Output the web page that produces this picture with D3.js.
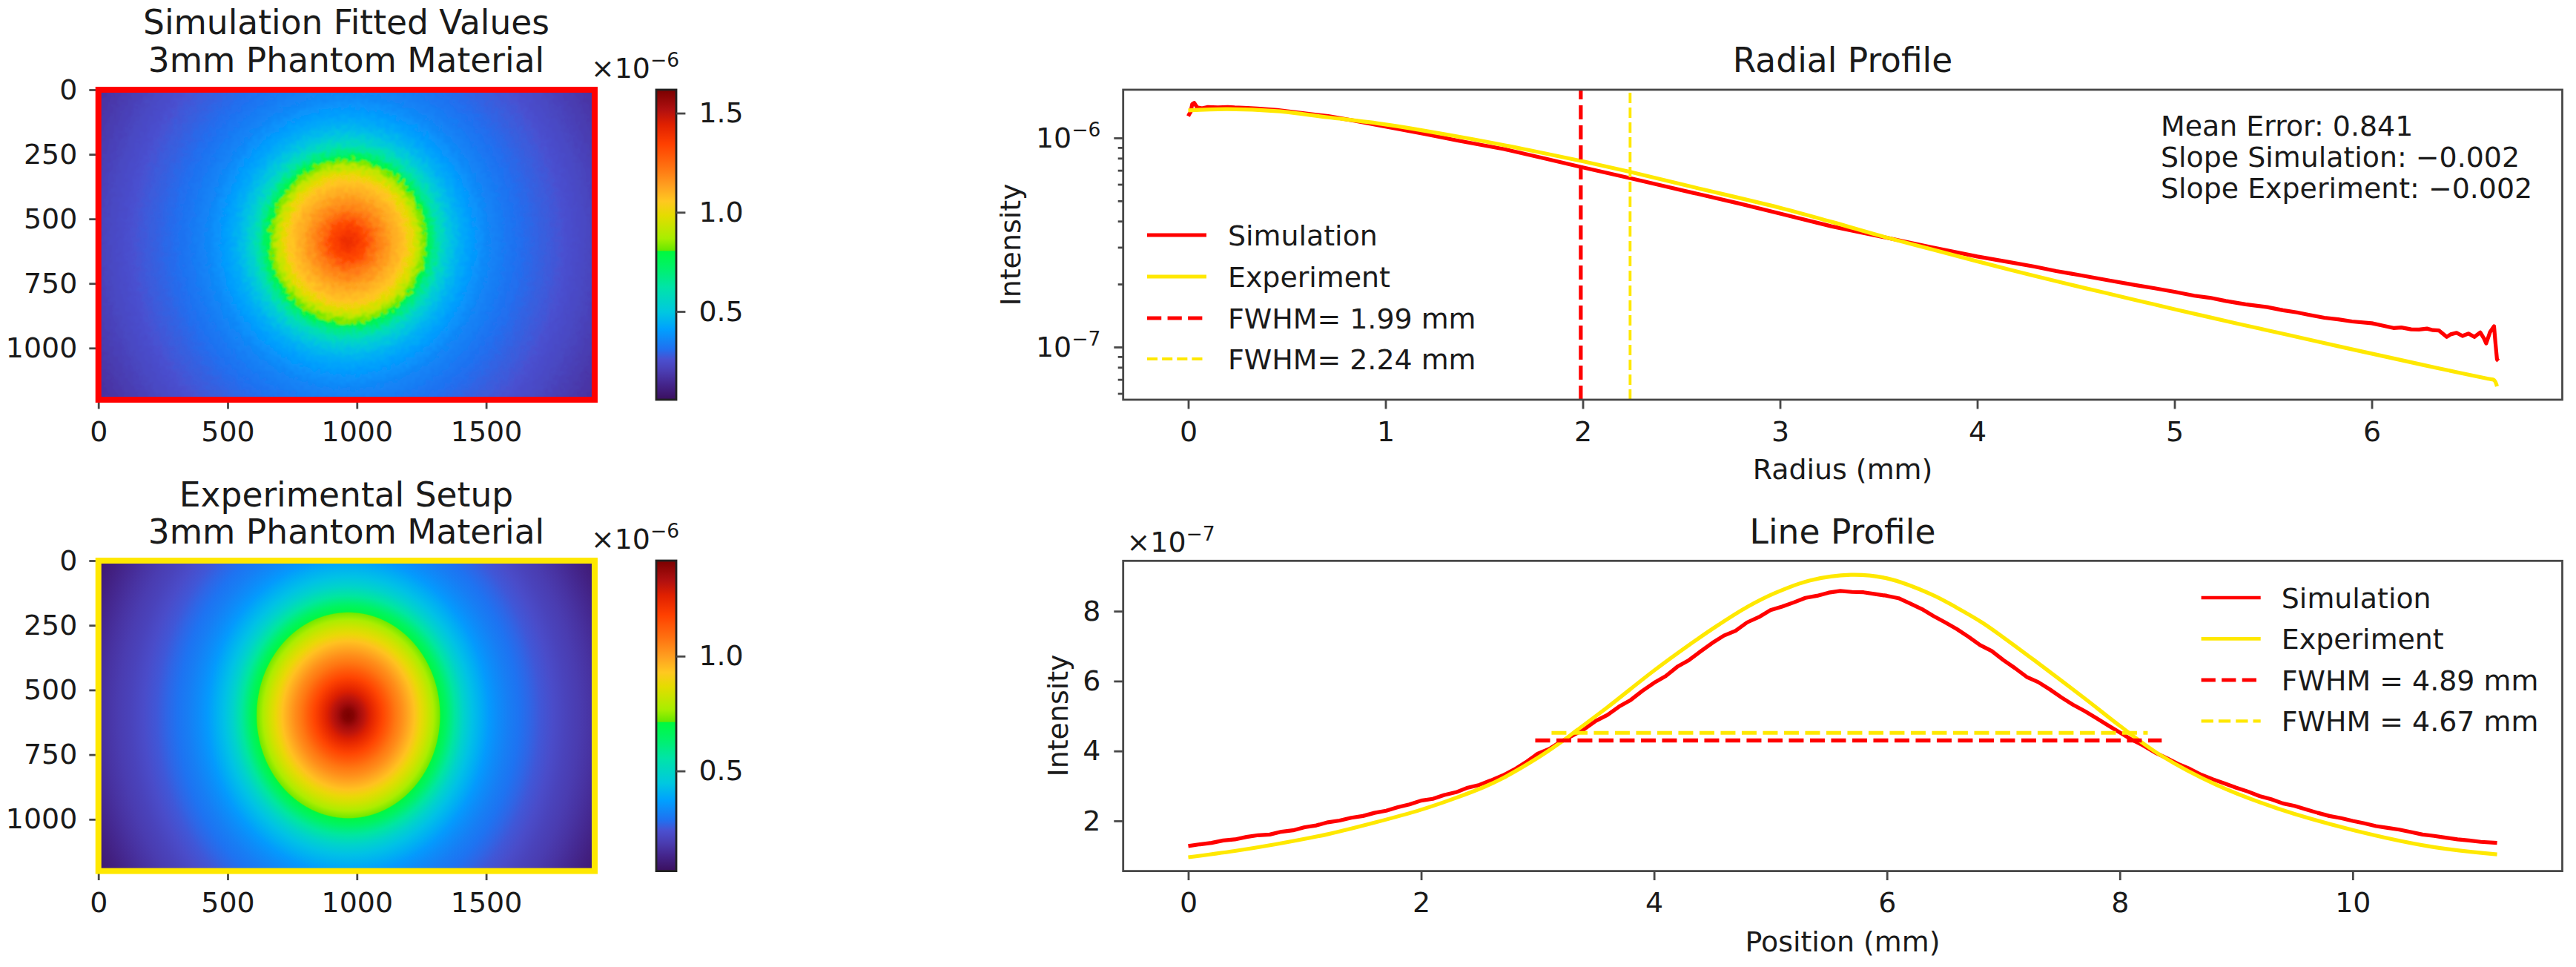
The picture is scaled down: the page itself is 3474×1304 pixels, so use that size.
<!DOCTYPE html>
<html>
<head>
<meta charset="utf-8">
<script src="https://cdn.jsdelivr.net/npm/d3@7"></script>
<style>
	html, body { margin: 0; background: #fff; }
	text { font-family: "DejaVu Sans", sans-serif; fill: #1a1a1a; }
</style>
</head>
<body>
<script>
// colormap, has a jump at the green / yellow-green edge
var cmapT = [0, 0.05, 0.09, 0.13, 0.163, 0.227, 0.283, 0.363, 0.418, 0.466, 0.479, 0.481, 0.52, 0.594, 0.64, 0.69, 0.753, 0.825, 0.888, 0.936, 1];
var cmapColors = ["#3a0f5e", "#44258c", "#4a3cb0", "#4a50d0", "#2070f0", "#00a0ff", "#00c8e0", "#00e4a8", "#00f070", "#00f848", "#00f840", "#66e800", "#a8ee00", "#e4dc00", "#ffc820", "#ffa020", "#ff7010", "#ff4000", "#e02000", "#b01010", "#7a0000"];

// image panels: value (x1e-6) against radius (mm)
var simRingR = [0, 0.12, 0.25, 0.4, 0.55, 0.7, 0.85, 1, 1.15, 1.3, 1.45, 1.6, 1.75, 1.78, 1.9, 2.05, 2.2, 2.35, 2.5, 2.65, 2.8, 2.95, 3.1, 3.25, 3.4, 3.55, 3.7, 3.85, 4, 4.2, 4.4, 4.6, 4.8, 5, 5.3, 5.6, 5.9, 6.2, 6.5, 6.8];
var simRingV = [1.41, 1.39, 1.36, 1.32, 1.25, 1.2, 1.16, 1.12, 1.09, 1.06, 0.99, 0.91, 0.815, 0.8, 0.69, 0.6, 0.53, 0.48, 0.445, 0.42, 0.4, 0.38, 0.362, 0.35, 0.338, 0.327, 0.317, 0.308, 0.3, 0.29, 0.28, 0.272, 0.262, 0.25, 0.235, 0.215, 0.195, 0.178, 0.165, 0.15];
var expRingR = [0, 0.12, 0.25, 0.38, 0.5, 0.65, 0.8, 0.95, 1.1, 1.25, 1.4, 1.55, 1.7, 1.85, 2, 2.14, 2.16, 2.3, 2.5, 2.7, 2.9, 3.1, 3.3, 3.5, 3.75, 4, 4.25, 4.5, 4.8, 5.1, 5.4, 5.7, 6, 6.3, 6.6, 6.9];
var expRingV = [1.415, 1.4, 1.35, 1.31, 1.27, 1.22, 1.17, 1.12, 1.07, 1.03, 0.985, 0.94, 0.88, 0.83, 0.773, 0.725, 0.705, 0.65, 0.565, 0.49, 0.435, 0.4, 0.36, 0.335, 0.31, 0.29, 0.27, 0.25, 0.228, 0.205, 0.185, 0.165, 0.14, 0.115, 0.095, 0.075];

// radial profile (x1e-6)
var radialSimX = [0, 0.005, 0.012, 0.02, 0.03, 0.045, 0.07, 0.1, 0.15, 0.2, 0.235, 0.3, 0.35, 0.45, 0.55, 0.62, 0.71, 0.85, 1, 1.2, 1.37, 1.6, 1.8, 2, 2.24, 2.56, 2.8, 3, 3.26, 3.51, 3.77, 4, 4.15, 4.29, 4.4, 4.54, 4.67, 4.8, 4.9, 5, 5.1, 5.18, 5.26, 5.36, 5.47, 5.55, 5.62, 5.68, 5.76, 5.83, 5.9, 6, 6.05, 6.11, 6.15, 6.2, 6.24, 6.28, 6.31, 6.34, 6.38, 6.4, 6.43, 6.46, 6.49, 6.52, 6.55, 6.57, 6.58, 6.6, 6.62, 6.627, 6.635, 6.642];
var radialSimV = [1.27, 1.3, 1.33, 1.45, 1.47, 1.4, 1.385, 1.405, 1.4, 1.405, 1.398, 1.39, 1.382, 1.36, 1.325, 1.3, 1.271, 1.205, 1.133, 1.045, 0.97, 0.885, 0.8, 0.723, 0.642, 0.546, 0.484, 0.435, 0.378, 0.338, 0.3, 0.271, 0.256, 0.2425, 0.231, 0.219, 0.208, 0.198, 0.191, 0.1837, 0.176, 0.172, 0.166, 0.16, 0.1552, 0.15, 0.1465, 0.1426, 0.138, 0.1356, 0.1325, 0.13, 0.127, 0.1233, 0.124, 0.1215, 0.1213, 0.1225, 0.1205, 0.1201, 0.1118, 0.115, 0.117, 0.113, 0.116, 0.1118, 0.1175, 0.1095, 0.1041, 0.118, 0.1258, 0.105, 0.0873, 0.0859];
var radialExpX = [0, 0.2, 0.45, 0.71, 1, 1.37, 1.7, 2, 2.24, 2.56, 3, 3.26, 3.51, 3.77, 4, 4.29, 4.54, 4.8, 5, 5.32, 5.57, 5.83, 6.09, 6.34, 6.59, 6.62, 6.635];
var radialExpV = [1.355, 1.374, 1.342, 1.254, 1.16, 1.014, 0.885, 0.773, 0.688, 0.582, 0.463, 0.397, 0.34, 0.293, 0.257, 0.2188, 0.192, 0.168, 0.1517, 0.1294, 0.1146, 0.1009, 0.0891, 0.0791, 0.0705, 0.0695, 0.0649];

// line profile (x1e-7)
var lineSimX = [0, 0.1, 0.2, 0.3, 0.4, 0.5, 0.6, 0.7, 0.8, 0.9, 1, 1.1, 1.2, 1.3, 1.4, 1.5, 1.6, 1.7, 1.8, 1.9, 2, 2.1, 2.2, 2.3, 2.4, 2.5, 2.6, 2.7, 2.8, 2.9, 3, 3.1, 3.2, 3.3, 3.4, 3.5, 3.6, 3.7, 3.8, 3.9, 4, 4.1, 4.2, 4.3, 4.4, 4.5, 4.6, 4.7, 4.8, 4.9, 5, 5.1, 5.2, 5.3, 5.4, 5.5, 5.6, 5.7, 5.8, 5.9, 6, 6.1, 6.2, 6.3, 6.4, 6.5, 6.6, 6.7, 6.8, 6.9, 7, 7.1, 7.2, 7.3, 7.4, 7.5, 7.6, 7.7, 7.8, 7.9, 8, 8.1, 8.2, 8.3, 8.4, 8.5, 8.6, 8.7, 8.8, 8.9, 9, 9.1, 9.2, 9.3, 9.4, 9.5, 9.6, 9.7, 9.8, 9.9, 10, 10.1, 10.2, 10.3, 10.4, 10.5, 10.6, 10.7, 10.8, 10.9, 11, 11.1, 11.24];
var lineSimV = [1.28, 1.33, 1.37, 1.44, 1.47, 1.54, 1.59, 1.61, 1.69, 1.73, 1.82, 1.87, 1.96, 2.01, 2.09, 2.14, 2.23, 2.29, 2.39, 2.47, 2.58, 2.63, 2.74, 2.82, 2.95, 3.03, 3.16, 3.3, 3.47, 3.68, 3.92, 4.06, 4.27, 4.44, 4.62, 4.86, 5.03, 5.27, 5.46, 5.72, 5.95, 6.14, 6.41, 6.6, 6.85, 7.09, 7.3, 7.44, 7.68, 7.83, 8.03, 8.13, 8.25, 8.38, 8.44, 8.53, 8.58, 8.55, 8.54, 8.49, 8.44, 8.37, 8.22, 8.06, 7.86, 7.68, 7.49, 7.27, 7.03, 6.86, 6.6, 6.37, 6.12, 5.97, 5.76, 5.53, 5.32, 5.14, 4.94, 4.73, 4.53, 4.33, 4.16, 3.96, 3.8, 3.63, 3.49, 3.32, 3.19, 3.07, 2.95, 2.84, 2.71, 2.62, 2.5, 2.43, 2.33, 2.23, 2.14, 2.08, 2, 1.93, 1.85, 1.8, 1.75, 1.68, 1.61, 1.57, 1.52, 1.47, 1.44, 1.4, 1.37];
var lineExpX = [0, 0.4, 0.75, 1.2, 1.6, 2, 2.3, 2.54, 2.7, 2.99, 3.2, 3.34, 3.6, 4, 4.3, 4.55, 4.8, 5.04, 5.34, 5.69, 6, 6.39, 6.6, 6.82, 7, 7.26, 7.7, 8, 8.35, 8.83, 9.35, 10, 10.66, 11.24];
var lineExpV = [0.96, 1.14, 1.33, 1.62, 1.95, 2.32, 2.66, 2.97, 3.22, 3.78, 4.25, 4.6, 5.25, 6.3, 7.03, 7.6, 8.12, 8.52, 8.88, 9.04, 8.94, 8.47, 8.1, 7.67, 7.25, 6.61, 5.5, 4.72, 3.88, 3.03, 2.36, 1.74, 1.27, 1.04];

var fwhmRadial = [1.99, 2.24];
var fwhmLineX = [[2.98, 8.36], [3.12, 8.24]];
var fwhmLineY = [4.30, 4.52];

var imgXTicks = [0, 500, 1000, 1500];
var imgYTicks = [0, 250, 500, 750, 1000];
var simBarTicks = [0.5, 1.0, 1.5];
var expBarTicks = [0.5, 1.0];
var radialXTicks = [0, 1, 2, 3, 4, 5, 6];
var lineXTicks = [0, 2, 4, 6, 8, 10];
var lineYTicks = [2, 4, 6, 8];
var logMajor = [1e-6, 1e-7];
var logMinor = [9e-7, 8e-7, 7e-7, 6e-7, 5e-7, 4e-7, 3e-7, 2e-7, 9e-8, 8e-8, 7e-8, 6e-8];

var radialLegend = ["Simulation", "Experiment", "FWHM= 1.99 mm", "FWHM= 2.24 mm"];
var lineLegend = ["Simulation", "Experiment", "FWHM = 4.89 mm", "FWHM = 4.67 mm"];
var statsText = ["Mean Error: 0.841", "Slope Simulation: \u22120.002", "Slope Experiment: \u22120.002"];

var RED = "#ff0000", YELLOW = "#ffe800", SPINE = "#484848";
var FS_TICK = 37.9, FS_TITLE = 45.5, FS_LEG = 37.9;

var svg = d3.select("body")
	.append("svg")
	.attr("width", 3474)
	.attr("height", 1304);

var defs = svg.append("defs");

function styleAxis(g) {
	g.select(".domain").remove();
	g.selectAll(".tick line").attr("stroke", SPINE).attr("stroke-width", 2.8);
	g.selectAll(".tick text").attr("font-size", FS_TICK).attr("fill", "#1a1a1a");
	return g;
}

function addText(str, x, y, size, anchor) {
	return svg.append("text")
		.attr("x", x)
		.attr("y", y)
		.attr("font-size", size)
		.attr("text-anchor", anchor || "start")
		.text(str);
}

function addOffset(exp, x, y) {
	var t = addText("\u00d710", x, y, FS_TICK);
	t.append("tspan")
		.attr("dy", -15)
		.attr("font-size", 26.5)
		.text("\u2212" + exp);
}

function imagePanel(id, top, bottom, ringR, ringV, vMin, vMax, barTicks, edge, cx, cy, mmX, mmY, noisy) {
	var x = d3.scaleLinear().domain([0, 1920]).range([132.7, 802]);
	var y = d3.scaleLinear().domain([0, 1200]).range([top, bottom]);
	var v = d3.scaleLinear().domain([vMin, vMax]).range([0, 1]);
	var cmap = d3.scaleLinear().domain(cmapT).range(cmapColors);
	var rMax = d3.max(ringR);

	// radial gradient built from the value rings
	var grad = defs.append("radialGradient")
		.attr("id", id + "Field")
		.attr("gradientUnits", "userSpaceOnUse")
		.attr("cx", 0).attr("cy", 0).attr("r", 1)
		.attr("gradientTransform", "translate(" + x(cx) + "," + y(cy) + ") scale(" + (x(rMax * mmX) - x(0)) + "," + (y(rMax * mmY) - y(0)) + ")");
	grad.selectAll("stop")
		.data(ringR)
		.enter()
		.append("stop")
		.attr("offset", function(d){ return d / rMax; })
		.attr("stop-color", function(d, i){ return cmap(v(ringV[i])); });

	defs.append("clipPath")
		.attr("id", id + "Clip")
		.append("rect")
		.attr("x", x(0)).attr("y", y(0))
		.attr("width", x(1920) - x(0)).attr("height", y(1200) - y(0));

	if (noisy) {
		// grainy edge of the simulated image
		var f = defs.append("filter")
			.attr("id", id + "Grain")
			.attr("filterUnits", "userSpaceOnUse")
			.attr("x", x(0) - 40).attr("y", y(0) - 40)
			.attr("width", x(1920) - x(0) + 80).attr("height", y(1200) - y(0) + 80);
		f.append("feTurbulence")
			.attr("type", "fractalNoise")
			.attr("baseFrequency", 0.15)
			.attr("numOctaves", 2)
			.attr("seed", 4)
			.attr("result", "n");
		f.append("feDisplacementMap")
			.attr("in", "SourceGraphic")
			.attr("in2", "n")
			.attr("scale", 16)
			.attr("xChannelSelector", "R")
			.attr("yChannelSelector", "G");
		f.append("feGaussianBlur").attr("stdDeviation", 1);
	}

	var field = svg.append("g").attr("clip-path", "url(#" + id + "Clip)")
		.append("rect")
		.attr("x", x(0) - 30).attr("y", y(0) - 30)
		.attr("width", x(1920) - x(0) + 60).attr("height", y(1200) - y(0) + 60)
		.attr("fill", "url(#" + id + "Field)");
	if (noisy) field.attr("filter", "url(#" + id + "Grain)");

	svg.append("g")
		.attr("transform", "translate(0," + bottom + ")")
		.call(d3.axisBottom(x).tickValues(imgXTicks).tickSize(12.4).tickPadding(16.5).tickFormat(d3.format("d")))
		.call(styleAxis);
	svg.append("g")
		.attr("transform", "translate(132.7,0)")
		.call(d3.axisLeft(y).tickValues(imgYTicks).tickSize(12.4).tickPadding(16).tickFormat(d3.format("d")))
		.call(styleAxis);

	svg.append("rect")
		.attr("x", x(0)).attr("y", y(0))
		.attr("width", x(1920) - x(0)).attr("height", y(1200) - y(0))
		.attr("fill", "none")
		.attr("stroke", edge)
		.attr("stroke-width", 8);

	// colorbar
	var barGrad = defs.append("linearGradient")
		.attr("id", id + "Bar")
		.attr("x1", 0).attr("y1", 1).attr("x2", 0).attr("y2", 0);
	barGrad.selectAll("stop")
		.data(cmapT)
		.enter()
		.append("stop")
		.attr("offset", function(d){ return d; })
		.attr("stop-color", function(d, i){ return cmapColors[i]; });

	var barY = d3.scaleLinear().domain([vMin, vMax]).range([bottom, top]);
	svg.append("rect")
		.attr("x", 885).attr("y", top)
		.attr("width", 27).attr("height", bottom - top)
		.attr("fill", "url(#" + id + "Bar)")
		.attr("stroke", "#222")
		.attr("stroke-width", 2.8);
	svg.append("g")
		.attr("transform", "translate(912,0)")
		.call(d3.axisRight(barY).tickValues(barTicks).tickSize(12.4).tickPadding(18).tickFormat(d3.format(".1f")))
		.call(styleAxis);
}

function drawLines(g, x, y, series) {
	series.forEach(function(s){
		var line = d3.line()
			.x(function(d){ return x(d[0]); })
			.y(function(d){ return y(d[1]); });
		if (s.smooth) line.curve(d3.curveCatmullRom.alpha(0.5));
		g.append("path")
			.datum(d3.zip(s.x, s.v))
			.attr("d", line)
			.attr("fill", "none")
			.attr("stroke", s.color)
			.attr("stroke-width", s.w)
			.attr("stroke-linejoin", "round");
	});
}

function legend(x0, x1, textX, rows, labels, widths) {
	labels.forEach(function(lab, i){
		svg.append("line")
			.attr("x1", x0).attr("x2", x1)
			.attr("y1", rows[i]).attr("y2", rows[i])
			.attr("stroke", i % 2 === 0 ? RED : YELLOW)
			.attr("stroke-width", widths[i])
			.attr("stroke-dasharray", i > 1 ? (widths[i] * 3.7) + " " + (widths[i] * 1.6) : null);
		addText(lab, textX, rows[i] + 13.5, FS_LEG);
	});
}

function spines(x0, y0, x1, y1) {
	svg.append("rect")
		.attr("x", x0).attr("y", y0)
		.attr("width", x1 - x0).attr("height", y1 - y0)
		.attr("fill", "none")
		.attr("stroke", SPINE)
		.attr("stroke-width", 2.8);
}

/* ---- left images ---- */
imagePanel("sim", 121, 539, simRingR, simRingV, 0.055, 1.618, simBarTicks, RED, 965, 587, 172, 180, true);
imagePanel("exp", 756, 1174.6, expRingR, expRingV, 0.064, 1.416, expBarTicks, YELLOW, 967, 598, 165, 185, false);

addText("Simulation Fitted Values", 467, 46.4, FS_TITLE, "middle");
addText("3mm Phantom Material", 467, 97.4, FS_TITLE, "middle");
addText("Experimental Setup", 467, 682.5, FS_TITLE, "middle");
addText("3mm Phantom Material", 467, 733.4, FS_TITLE, "middle");
addOffset(6, 797, 104.5);
addOffset(6, 797, 739.6);

/* ---- radial profile ---- */
var rx = d3.scaleLinear().domain([-0.33, 6.966]).range([1514.7, 3455.5]);
var ry = d3.scaleLog().domain([5.6e-8, 1.7e-6]).range([539, 121]);
var rScale = function(d){ return ry(d * 1e-6); };

svg.append("g")
	.attr("transform", "translate(0,539)")
	.call(d3.axisBottom(rx).tickValues(radialXTicks).tickSize(12.4).tickPadding(16.5))
	.call(styleAxis);
svg.append("g")
	.attr("transform", "translate(1514.7,0)")
	.call(d3.axisLeft(ry).tickValues(logMinor).tickSize(7).tickFormat(""))
	.call(styleAxis);
var logAxis = svg.append("g")
	.attr("transform", "translate(1514.7,0)")
	.call(d3.axisLeft(ry).tickValues(logMajor).tickSize(12.4).tickPadding(18).tickFormat(function(){ return "10"; }))
	.call(styleAxis);
logAxis.selectAll(".tick text")
	.attr("dy", "0.34em")
	.append("tspan")
	.attr("dy", -15)
	.attr("font-size", 26.5)
	.text(function(d){ return "\u2212" + Math.round(-Math.log10(d)); });

var radialG = svg.append("g");
drawLines(radialG, rx, rScale, [
	{x: radialSimX, v: radialSimV, color: RED, w: 5.2},
	{x: radialExpX, v: radialExpV, color: YELLOW, w: 5.2, smooth: true}
]);
radialG.selectAll(".fwhm")
	.data(fwhmRadial)
	.enter()
	.append("line")
	.attr("class", "fwhm")
	.attr("x1", function(d){ return rx(d); })
	.attr("x2", function(d){ return rx(d); })
	.attr("y1", 539)
	.attr("y2", 121)
	.attr("stroke", function(d, i){ return i === 0 ? RED : YELLOW; })
	.attr("stroke-width", function(d, i){ return i === 0 ? 5.2 : 3.8; })
	.attr("stroke-dasharray", function(d, i){ return i === 0 ? "19 8" : "14 6"; });
spines(1514.7, 121, 3455.5, 539);

addText("Radial Profile", 2485, 97.4, FS_TITLE, "middle");
addText("Radius (mm)", 2485, 646, FS_TICK, "middle");
svg.append("text")
	.attr("transform", "translate(1376,330) rotate(-90)")
	.attr("text-anchor", "middle")
	.attr("font-size", FS_TICK)
	.text("Intensity");
legend(1547, 1627, 1656, [317, 373, 429, 484], radialLegend, [5.2, 5.2, 5.2, 3.8]);
statsText.forEach(function(s, i){
	addText(s, 2914, 183 + i * 42, FS_TICK);
});

/* ---- line profile ---- */
var lx = d3.scaleLinear().domain([-0.559, 11.8]).range([1514.7, 3455.5]);
var ly = d3.scaleLinear().domain([0.565, 9.44]).range([1174.6, 756.3]);

svg.append("g")
	.attr("transform", "translate(0,1174.6)")
	.call(d3.axisBottom(lx).tickValues(lineXTicks).tickSize(12.4).tickPadding(16.5))
	.call(styleAxis);
svg.append("g")
	.attr("transform", "translate(1514.7,0)")
	.call(d3.axisLeft(ly).tickValues(lineYTicks).tickSize(12.4).tickPadding(18))
	.call(styleAxis);

var lineG = svg.append("g");
drawLines(lineG, lx, ly, [
	{x: lineSimX, v: lineSimV, color: RED, w: 5.2},
	{x: lineExpX, v: lineExpV, color: YELLOW, w: 5.2, smooth: true}
]);
lineG.selectAll(".fwhm")
	.data(fwhmLineY)
	.enter()
	.append("line")
	.attr("class", "fwhm")
	.attr("x1", function(d, i){ return lx(fwhmLineX[i][0]); })
	.attr("x2", function(d, i){ return lx(fwhmLineX[i][1]); })
	.attr("y1", function(d){ return ly(d); })
	.attr("y2", function(d){ return ly(d); })
	.attr("stroke", function(d, i){ return i === 0 ? RED : YELLOW; })
	.attr("stroke-width", function(d, i){ return i === 0 ? 5.4 : 5; })
	.attr("stroke-dasharray", "20 8.5");
spines(1514.7, 756.3, 3455.5, 1174.6);

addText("Line Profile", 2485, 733.4, FS_TITLE, "middle");
addText("Position (mm)", 2485, 1282.6, FS_TICK, "middle");
svg.append("text")
	.attr("transform", "translate(1440,965) rotate(-90)")
	.attr("text-anchor", "middle")
	.attr("font-size", FS_TICK)
	.text("Intensity");
addOffset(7, 1519.6, 743.8);
legend(2968.6, 3048.7, 3076.8, [806, 861.4, 917, 972.4], lineLegend, [4.6, 4.6, 5.2, 4.4]);
</script>
</body>
</html>
